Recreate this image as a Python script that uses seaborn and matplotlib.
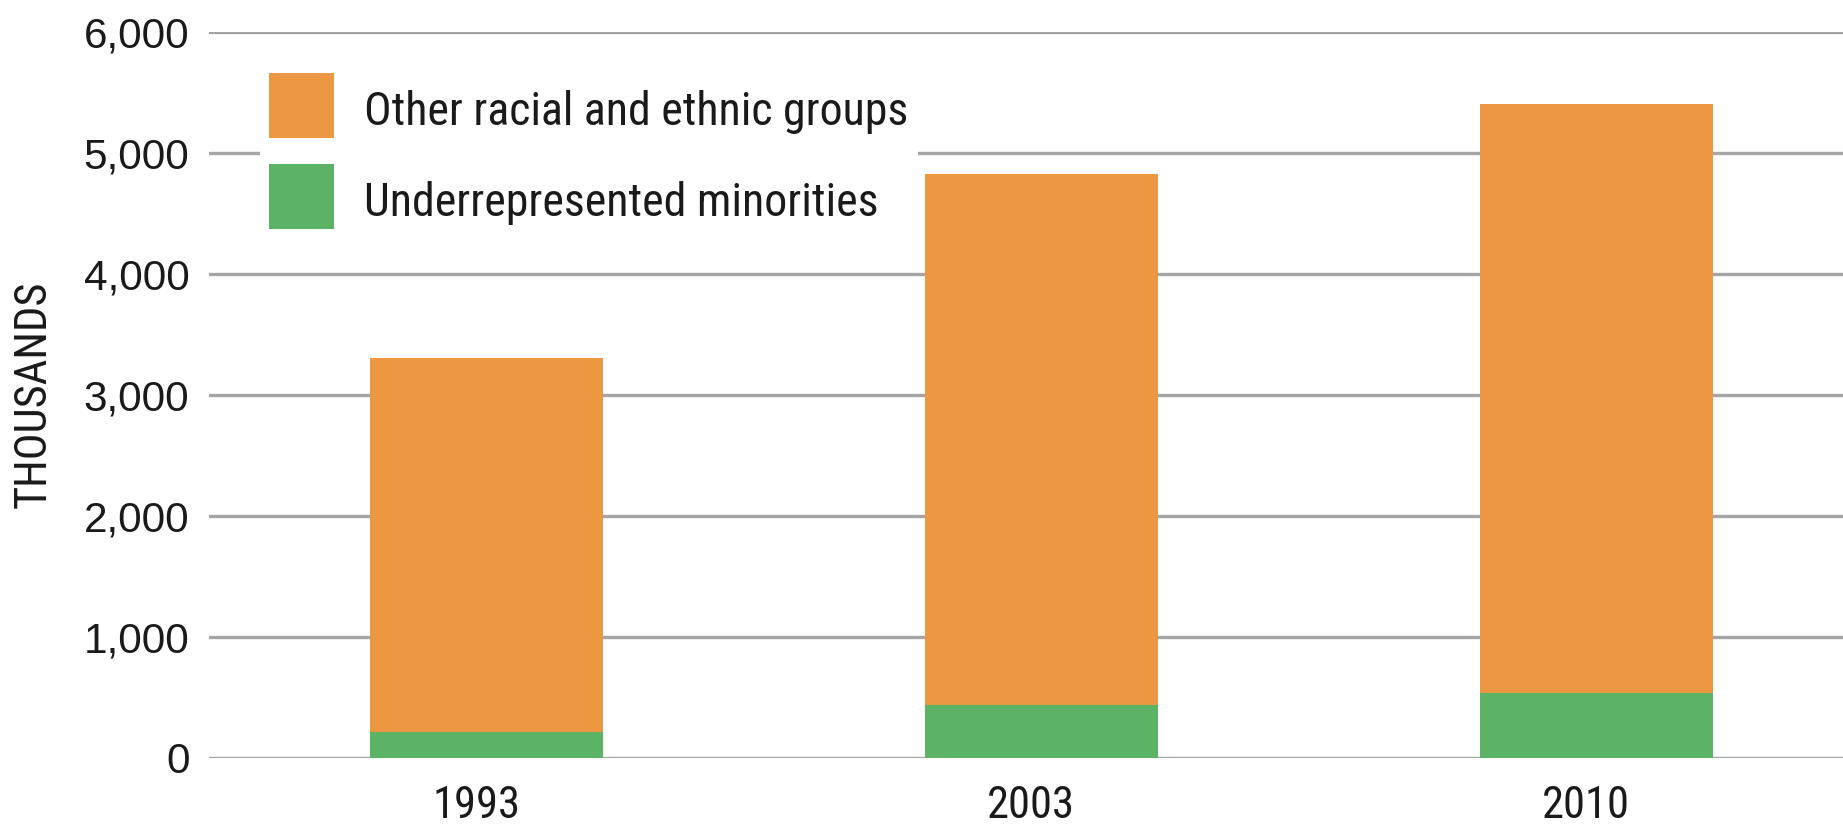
import matplotlib
matplotlib.use("Agg")
import matplotlib.pyplot as plt
import matplotlib.transforms as mtransforms
from matplotlib import font_manager as fm
from matplotlib.patches import Patch
import seaborn as sns

# Data (thousands)
years = ["1993", "2003", "2010"]
underrepresented = [210, 430, 530]
other_groups = [3090, 4390, 4870]
series_labels = ["Other racial and ethnic groups", "Underrepresented minorities"]
y_ticks = [0, 1000, 2000, 3000, 4000, 5000, 6000]

ORANGE = "#EC9843"
GREEN = "#5CB366"
GRID = "#A5A5A5"
INK = "#1a1a1a"
REGULAR = ["Liberation Sans", "DejaVu Sans"]


def narrow_font_path():
    """Return the file of a condensed sans-serif face, if one is installed."""
    candidates = ["Liberation Sans Narrow", "Roboto Condensed", "Open Sans Condensed",
                  "Noto Sans Condensed", "Noto Sans", "DejaVu Sans Condensed",
                  "DejaVu Sans"]
    for fam in candidates:
        try:
            path = fm.findfont(fm.FontProperties(family=fam, stretch="condensed"),
                               fallback_to_default=False)
        except ValueError:
            continue
        low = path.lower()
        if ("narrow" in low or "condensed" in low) and "bold" not in low \
                and "oblique" not in low and "italic" not in low:
            return path
    return None


NARROW_PATH = narrow_font_path()


def narrow(size):
    if NARROW_PATH:
        return fm.FontProperties(fname=NARROW_PATH, size=size)
    return fm.FontProperties(family="Roboto", size=size)


sns.set_theme(style="white")
plt.rcParams["font.family"] = REGULAR

totals = [u + o for u, o in zip(underrepresented, other_groups)]

fig = plt.figure(figsize=(18.43, 8.25), dpi=100)
ax = fig.add_axes([209 / 1843, 1 - 757.5 / 825, 1 - 209 / 1843, (757.5 - 31.7) / 825])

# Stacked bars: full height in orange, minority share drawn over it in green
sns.barplot(x=years, y=totals, color=ORANGE, width=0.42, saturation=1,
            ax=ax, zorder=3, edgecolor="none")
sns.barplot(x=years, y=underrepresented, color=GREEN, width=0.42, saturation=1,
            ax=ax, zorder=4, edgecolor="none")

ax.set_ylim(0, 6000)
ax.set_xlim(-0.5, 2.445)
ax.set_yticks(y_ticks)
ax.set_yticklabels([f"{v:,}" for v in y_ticks])
ax.yaxis.grid(True, color=GRID, linewidth=2.4, zorder=0)
ax.xaxis.grid(False)
for s in ax.spines.values():
    s.set_visible(False)
ax.set_axisbelow(True)

ax.tick_params(axis="y", length=0, pad=14, labelsize=30.5, labelcolor=INK)
ax.tick_params(axis="x", length=0, pad=20, labelcolor=INK)
for lbl in ax.get_xticklabels():
    lbl.set_fontproperties(narrow(32))
    lbl.set_transform(lbl.get_transform() +
                      mtransforms.ScaledTranslation(-0.1, 0, fig.dpi_scale_trans))

ax.set_xlabel("")
ax.set_ylabel("THOUSANDS", fontproperties=narrow(32), color=INK)
ax.yaxis.set_label_coords((55 - 209) / 1634, 0.5)

handles = [Patch(facecolor=ORANGE, edgecolor="none"),
           Patch(facecolor=GREEN, edgecolor="none")]
leg = ax.legend(handles, series_labels, loc="upper left",
                bbox_to_anchor=(260 / 1843, 1 - 64 / 825),
                bbox_transform=fig.transFigure,
                prop=narrow(33),
                handlelength=1.42, handleheight=1.80, handletextpad=0.66,
                labelspacing=0.56, borderpad=0.2, frameon=True,
                fancybox=False, framealpha=1, edgecolor="none",
                facecolor="white", borderaxespad=0)
leg.set_zorder(2)
# nudge the labels down so they sit centred on their swatches
for t in leg.get_texts():
    t.set_color(INK)
    t.set_transform(t.get_transform() +
                    mtransforms.ScaledTranslation(0, -0.05, fig.dpi_scale_trans))

fig.savefig("out.png", dpi=100)
